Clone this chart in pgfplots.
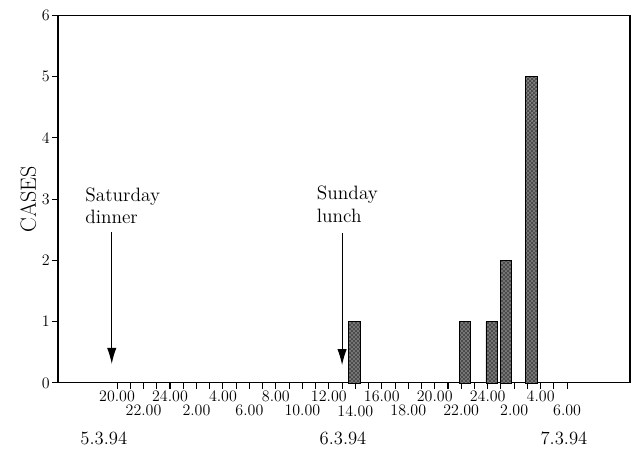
\documentclass[border=0pt]{standalone}
\usepackage{pgfplots}
\pgfplotsset{compat=1.18}
\usetikzlibrary{patterns,arrows.meta}
\begin{document}
\begin{tikzpicture}
\useasboundingbox (-43.5pt,-49.5pt) rectangle (432pt,287.2pt);
\begin{axis}[
  at={(0,0)}, anchor=south west,
  scale only axis,
  width=429pt, height=275.6pt,
  xmin=15.54, xmax=58.75,
  ymin=0, ymax=6,
  axis line style={line width=0.8pt},
  tick pos=left,
  tick align=outside,
  major tick length=4.5pt,
  minor tick length=4.5pt,
  tick style={line width=0.8pt, black},
  ytick={0,1,2,3,4,5,6},
  yticklabel style={font=\fontsize{11.5}{13}\selectfont, inner sep=1.5pt},
  xtick={20,24,28,32,36,40,44,48,52},
  xticklabels={20.00,24.00,4.00,8.00,12.00,16.00,20.00,24.00,4.00},
  minor xtick={21,23,25,27,29,31,33,35,37,39,41,43,45,47,49,51,53},
  extra x ticks={22,26,30,34,38,42,46,50,54},
  extra x tick labels={22.00,2.00,6.00,10.00,14.00,18.00,22.00,2.00,6.00},
  extra x tick style={tick label style={yshift=-11pt}},
  xticklabel style={font=\fontsize{12}{13}\selectfont, inner sep=1pt},
  ylabel={CASES},
  ylabel style={font=\fontsize{16.5}{19}\selectfont, at={(axis description cs:-0.052,0.5)}, anchor=center},
  clip=false,
]
\addplot[ybar, bar width=0.87, draw=black, line width=0.6pt, fill=black!70,
  postaction={pattern=crosshatch dots, pattern color=white}]
  coordinates {(37.92,1) (46.28,1) (48.30,1) (49.37,2) (51.32,5)};

\draw[line width=0.8pt, -{Latex[length=12pt,width=7pt]}] (axis cs:19.6,2.46) -- (axis cs:19.6,0.31);
\draw[line width=0.8pt, -{Latex[length=12pt,width=7pt]}] (axis cs:37.0,2.44) -- (axis cs:37.0,0.29);

\node[anchor=base west, inner sep=0pt, font=\fontsize{14.5}{16}\selectfont] at (axis cs:17.58,2.96) {Saturday};
\node[anchor=base west, inner sep=0pt, font=\fontsize{14.5}{16}\selectfont] at (axis cs:17.58,2.61) {dinner};
\node[anchor=base west, inner sep=0pt, font=\fontsize{14.5}{16}\selectfont] at (axis cs:35.08,3.00) {Sunday};
\node[anchor=base west, inner sep=0pt, font=\fontsize{14.5}{16}\selectfont] at (axis cs:35.08,2.62) {lunch};

\node[anchor=base, inner sep=0pt, font=\fontsize{14}{16}\selectfont, yshift=-46.5pt] at (axis cs:19.0,0) {5.3.94};
\node[anchor=base, inner sep=0pt, font=\fontsize{14}{16}\selectfont, yshift=-46.5pt] at (axis cs:37.07,0) {6.3.94};
\node[anchor=base, inner sep=0pt, font=\fontsize{14}{16}\selectfont, yshift=-46.5pt] at (axis cs:53.76,0) {7.3.94};
\end{axis}
\end{tikzpicture}
\end{document}
